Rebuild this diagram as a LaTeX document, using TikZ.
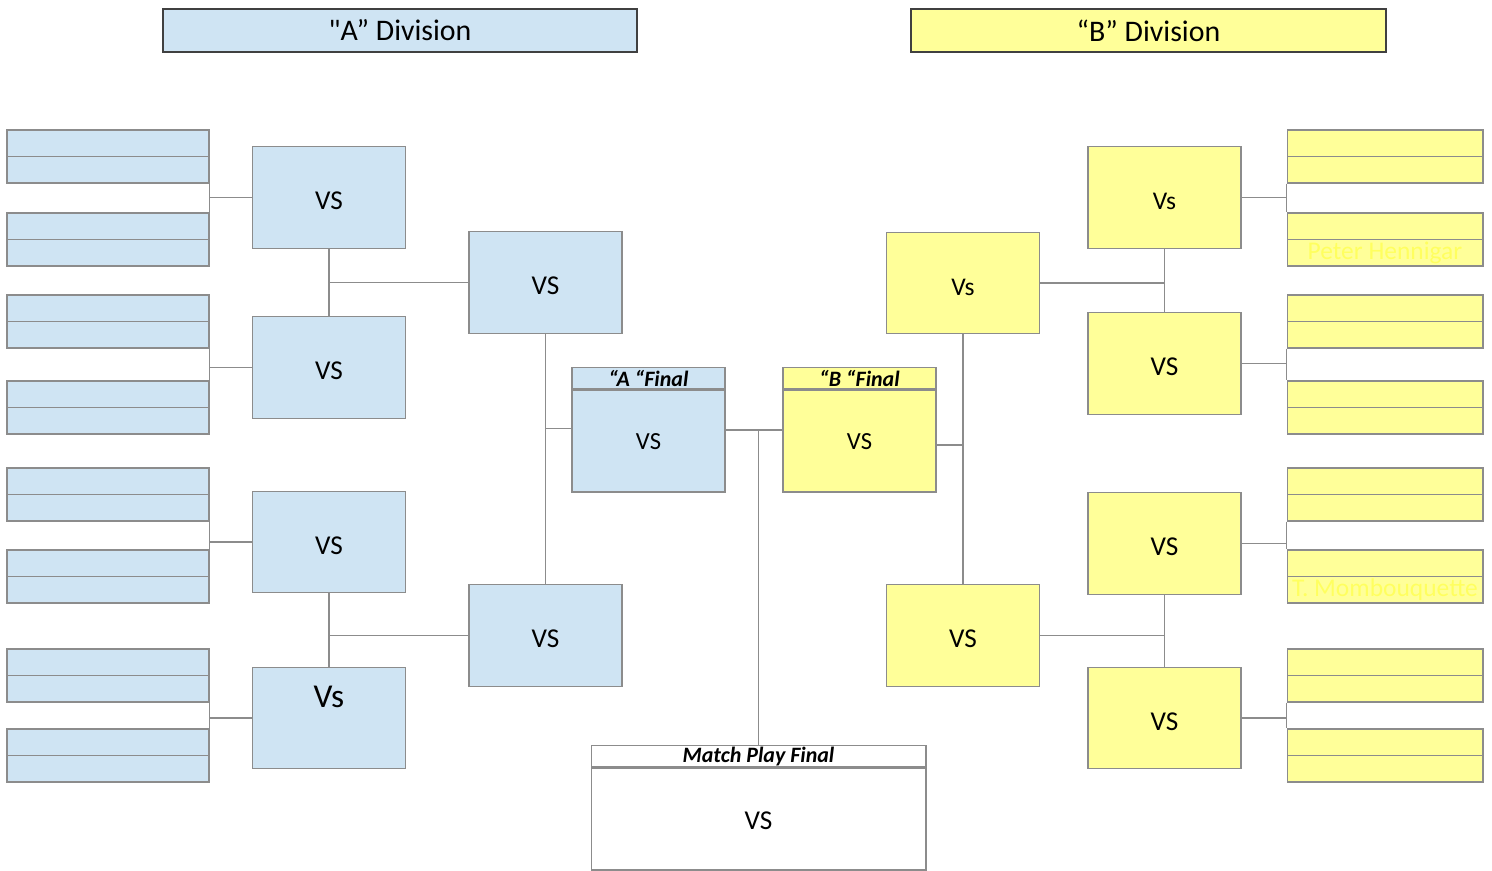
\documentclass[tikz,border=0pt]{standalone}
\usepackage{fontspec}
\setmainfont{Carlito}[Ligatures=TeXOff]
\usepackage{xcolor}
\usetikzlibrary{positioning}
\definecolor{ablue}{RGB}{207,228,243}
\definecolor{byellow}{RGB}{255,255,153}
\definecolor{edgegray}{RGB}{140,140,140}
\definecolor{faintyellow}{RGB}{255,255,95}
\newcommand{\vsm}[1]{{\fontsize{14.5}{16}\selectfont #1}}
\tikzset{
	box/.style={draw=edgegray, line width=0.6pt, inner sep=0pt, minimum width=3.06cm, minimum height=2.03cm, text height=14pt, font=\fontsize{15.5}{18}\selectfont},
	abox/.style={box, fill=ablue},
	bbox/.style={box, fill=byellow},
	slot/.style={draw=edgegray, line width=0.6pt, inner sep=0pt, minimum height=0.53cm},
	aslot/.style={slot, fill=ablue, minimum width=4.04cm},
	bslot/.style={slot, fill=byellow, minimum width=3.92cm},
	head/.style={draw=edgegray, line width=0.6pt, inner sep=0pt, minimum height=0.42cm, font=\fontsize{12.5}{14}\selectfont\bfseries\itshape},
	title/.style={draw=black!75, line width=0.7pt, inner sep=0pt, minimum height=0.86cm, font=\fontsize{17}{20}\selectfont},
	link/.style={draw=edgegray, line width=0.6pt},
	faint/.style={text=faintyellow, font=\fontsize{14.5}{17}\selectfont}
}

\begin{document}
\begin{tikzpicture}[x=0.02cm, y=-0.02cm]
	\useasboundingbox (0,0) rectangle (1492,871);
	\node[title, fill=ablue, minimum width=9.48cm] (tA) at (400,30.5) {"A” Division};
	\node[title, fill=byellow, minimum width=9.5cm] (tB) at (1148.5,30.5) {“B” Division};

	\foreach \t [count=\i] in {130,213,295,381,468,550,649,729} {
		\node[aslot] (a\i-1) at (108,\t+13.25) {};
		\node[aslot] (a\i-2) at (108,\t+39.75) {};
		\node[bslot] (b\i-1) at (1385,\t+13.25) {};
		\node[bslot] (b\i-2) at (1385,\t+39.75) {};
	}
	\node[faint] (pH) at (b2-2) {Peter Hennigar};
	\node[faint] (tM) at (b6-2) {T. Mombouquette};

	\foreach \y/\s [count=\r] in {197.5/VS,367.5/VS,542/VS,718/{}}
		\node[abox] (rA\r) at (329,\y) {\s};
	\node[font=\fontsize{19}{22}\selectfont] (rA4t) at (329,697) {Vs};
	\foreach \y/\s [count=\r] in {197.5/\vsm{Vs},363.5/VS,543.5/VS,718/VS}
		\node[bbox] (rB\r) at (1164.5,\y) {\s};

	\node[abox] (qA1) at (545.5,282.5) {VS};
	\node[abox] (qA2) at (545.5,635.5) {VS};
	\node[bbox] (qB1) at (963,283) {\vsm{Vs}};
	\node[bbox] (qB2) at (963,635.5) {VS};

	\node[abox, minimum height=2.04cm, text height=10pt, font=\fontsize{14}{16}\selectfont] (fA) at (648.5,441) {VS};
	\node[head, fill=ablue, minimum width=3.06cm, above=0pt of fA] (fAh) {“A “Final};
	\node[bbox, minimum height=2.04cm, text height=10pt, font=\fontsize{14}{16}\selectfont] (fB) at (859.5,441) {VS};
	\node[head, fill=byellow, minimum width=3.06cm, above=0pt of fB] (fBh) {“B “Final};
	\node[box, minimum width=6.7cm, minimum height=2.04cm, text height=12pt] (mp) at (758.5,819) {VS};
	\node[head, minimum width=6.7cm, above=0pt of mp] (mph) {Match Play Final};

	\foreach \r [evaluate=\r as \p using int(2*\r-1), evaluate=\r as \q using int(2*\r)] in {1,...,4} {
		\draw[link] (a\p-2.south east) -- (a\q-1.north east);
		\draw[link] (rA\r.west) -- (rA\r.west -| a\p-2.east);
		\draw[link] (b\p-2.south west) -- (b\q-1.north west);
		\draw[link] (rB\r.east) -- (rB\r.east -| b\p-2.west);
	}
	\draw[link] (rA1.south) -- (rA2.north);
	\draw[link] (qA1.west) -- (qA1.west -| rA1.south);
	\draw[link] (rA3.south) -- (rA4.north);
	\draw[link] (qA2.west) -- (qA2.west -| rA3.south);
	\draw[link] (qA1.south) -- (qA2.north);
	\draw[link] ([yshift=0.25cm]fA.west) -| (qA1.south);
	\draw[link] ([yshift=0.22cm]fA.east) -- ([yshift=0.22cm]fB.west);
	\draw[link] (mph.north) |- ([yshift=0.22cm]fA.east);
	\draw[link] ([yshift=-0.08cm]fB.east) -| (qB1.south);
	\draw[link] (rB1.south) -- (rB2.north);
	\draw[link] (qB1.east) -- (qB1.east -| rB1.south);
	\draw[link] (rB3.south) -- (rB4.north);
	\draw[link] (qB2.east) -- (qB2.east -| rB3.south);
	\draw[link] (qB1.south) -- (qB2.north);
\end{tikzpicture}
\end{document}
